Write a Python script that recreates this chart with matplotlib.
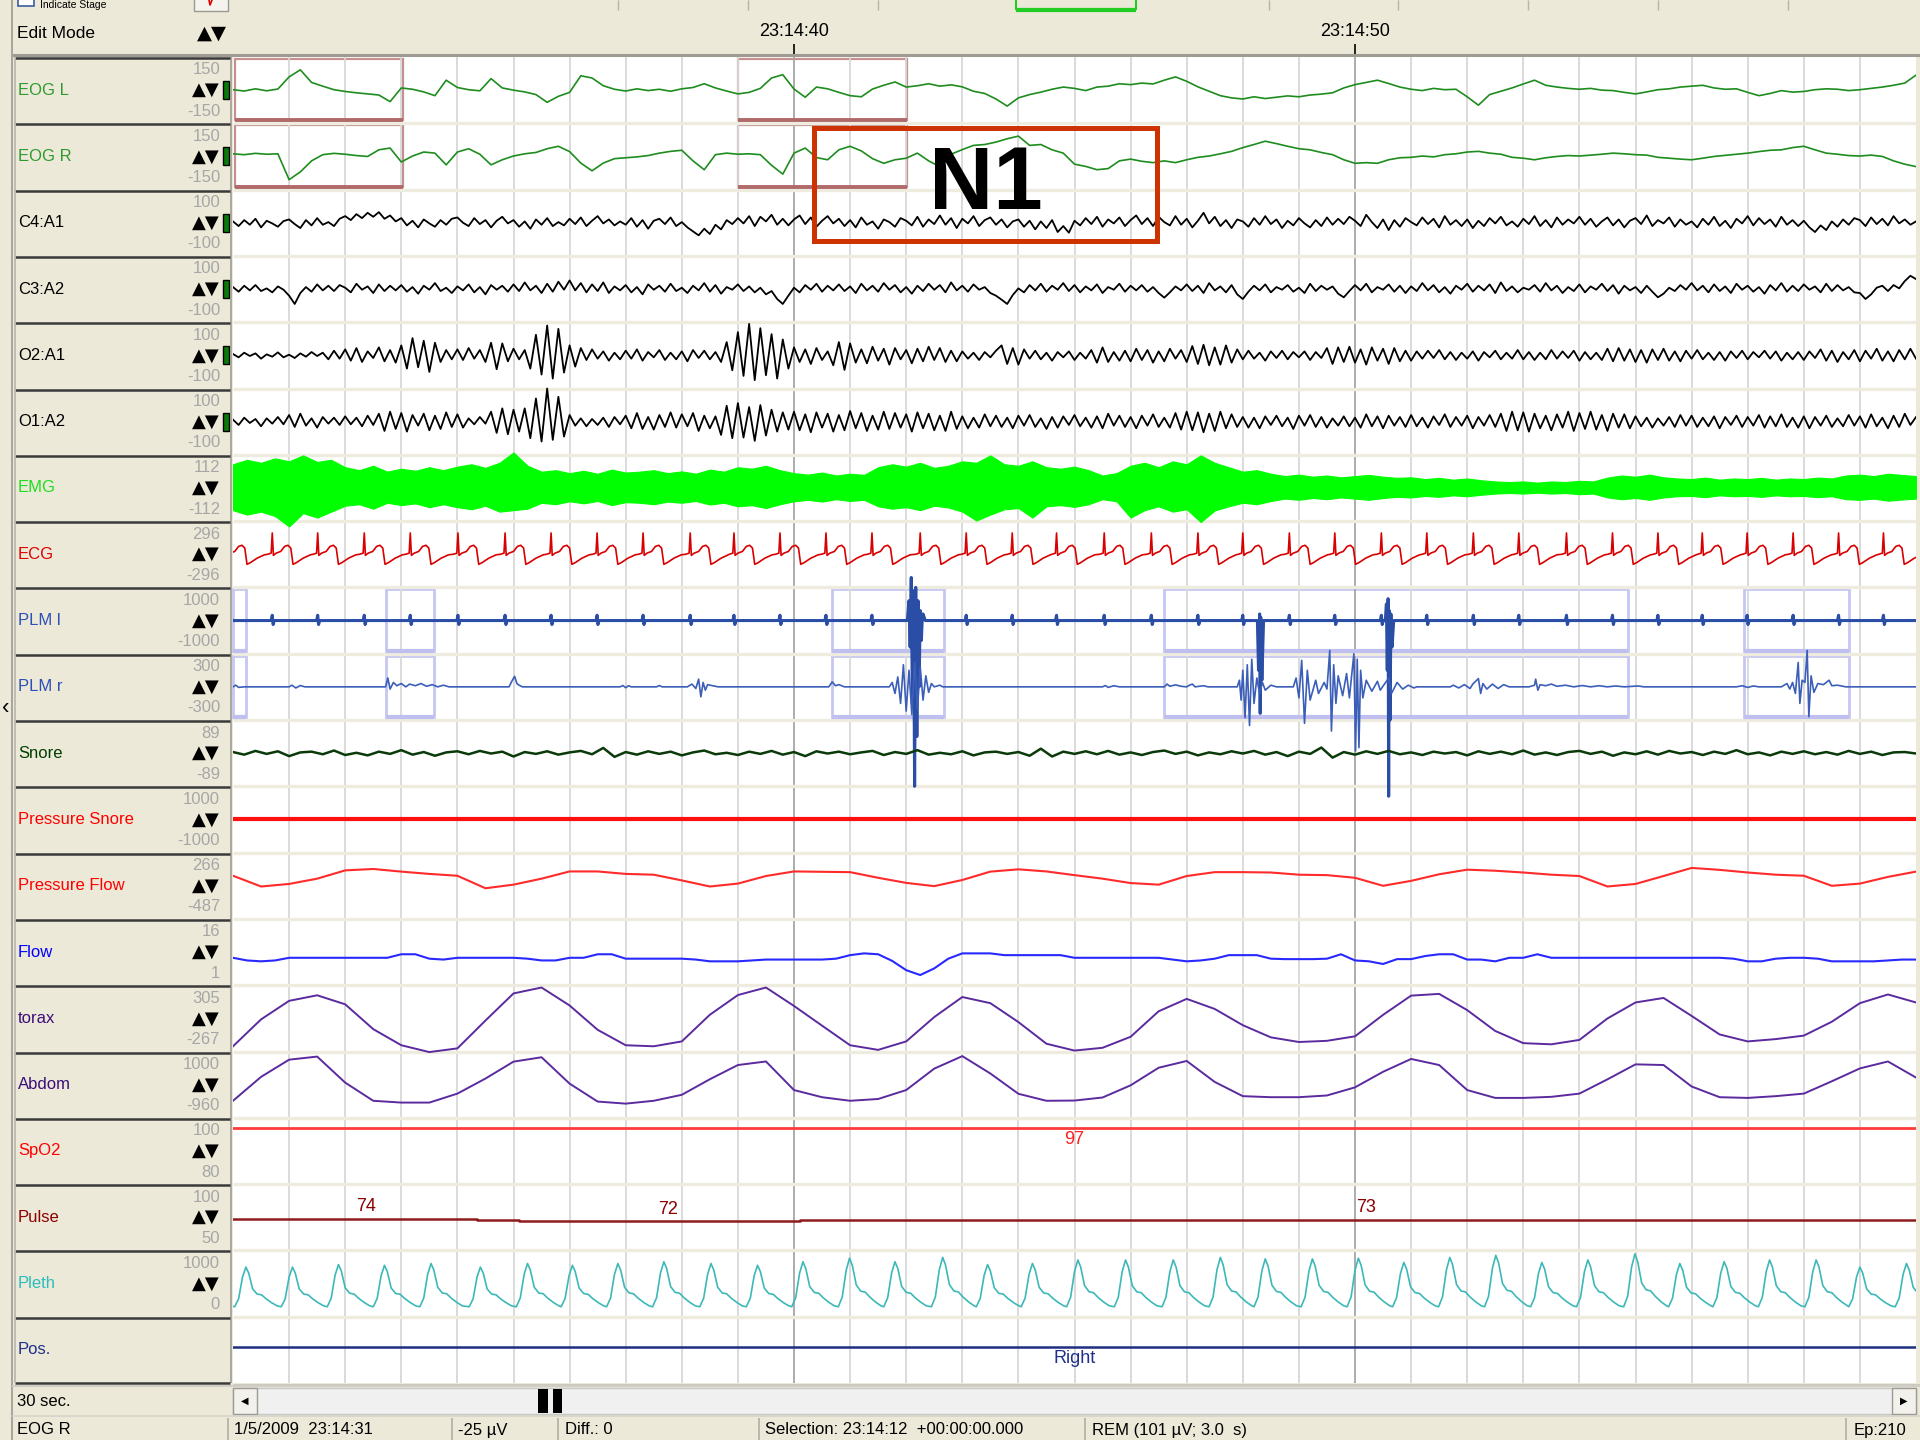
import numpy as np
import matplotlib
matplotlib.use("Agg")
import matplotlib.pyplot as plt
from matplotlib.patches import Rectangle
from matplotlib.transforms import Bbox, TransformedBbox

plt.rcParams["font.family"] = ["Liberation Sans Narrow", "Liberation Sans", "DejaVu Sans"]

# ---------------- channels ----------------
labels = ["EOG L", "EOG R", "C4:A1", "C3:A2", "O2:A1", "O1:A2", "EMG", "ECG", "PLM l", "PLM r",
          "Snore", "Pressure Snore", "Pressure Flow", "Flow", "torax", "Abdom", "SpO2", "Pulse",
          "Pleth", "Pos."]
scale_top = [150, 150, 100, 100, 100, 100, 112, 296, 1000, 300, 89, 1000, 266, 16, 305, 1000,
             100, 100, 1000, None]
scale_bottom = [-150, -150, -100, -100, -100, -100, -112, -296, -1000, -300, -89, -1000, -487, 1,
                -267, -960, 80, 50, 0, None]
label_colors = ["#2E9A2E", "#2E9A2E", "#000000", "#000000", "#000000", "#000000", "#22DD22",
                "#DD0000", "#2F4FB8", "#2F4FB8", "#003C00", "#FF0000", "#FF0000", "#0000FF",
                "#3D0E7A", "#3D0E7A", "#FF0000", "#8B0000", "#2DBDBD", "#1F2F8A"]
trace_colors = ["#1E8C1E", "#1E8C1E", "#000000", "#000000", "#000000", "#000000", "#00FF00",
                "#D80000", "#2A4EA6", "#3B5EB8", "#0A3A0A", "#FF1010", "#FF2A2A", "#2828FF",
                "#5A2A9E", "#5A2A9E", "#FF3A3A", "#8E1C1C", "#3DB8B8", "#1F2F80"]
has_gain_bar = [True] * 6 + [False] * 14

# ---------------- signals (30 s page, values in channel units) ----------------
eog_l = [2, -4, 6, -3, 5, 60, 92, 35, 18, 2,
         -6, -12, -17, -22, -52, 10, 4, -8, -25, 45,
         12, 2, -3, 52, 10, 0, -8, -20, -55, -28,
         -10, 65, 55, 20, 4, -4, 6, -2, 4, -5,
         6, 12, 29, 10, -4, -17, -10, 8, 55, 70,
         5, -32, 14, 6, -10, -25, -30, 5, 22, 37,
         14, 20, 29, 18, 24, 15, -5, -15, -40, -72,
         -35, -20, -9, 4, 14, 8, -2, 14, 18, 29,
         25, 32, 28, 45, 60, 40, 15, -5, -25, -35,
         -40, -30, -38, -32, -26, -30, -22, -18, -12, 10,
         25, 35, 45, 30, 14, 4, -2, 8, 2, 4,
         -30, -68, -20, -5, 10, 28, 45, 22, 14, 8,
         4, 8, 0, -2, -10, -17, -8, 2, 6, 14,
         18, 22, 10, 4, 6, -10, -25, -15, -2, -9,
         -6, 2, 6, 4, -2, 2, 8, 14, 22, 32, 68]
eog_r = [12, 8, 14, 10, 12, -105, -70, -20, 8, 14,
         10, 4, 0, 30, 38, -25, 2, 20, 15, -38,
         20, 35, 10, -38, -15, 2, 12, 18, 35, 46,
         22, -30, -65, -30, -10, -6, -2, 4, 15, 23,
         28, -20, -60, 8, 15, 10, 12, 8, -40, -80,
         15, 38, -5, -15, 30, 46, 25, -10, -31, -15,
         -8, 15, -20, -46, 10, 31, 50, 54, 65, 80,
         92, 50, 54, 30, 15, -35, -45, -60, -55, -20,
         -12, -22, -28, -20, -28, -15, -4, 2, 12, 23,
         40, 54, 69, 58, 46, 35, 30, 18, 8, -15,
         -31, -28, -31, -15, -6, -4, 2, -2, 8, 12,
         20, 23, 15, 10, -4, -8, -15, -6, 0, 4,
         2, 6, 10, 15, 12, 8, 6, -4, -8, -12,
         -15, -8, 0, 5, 10, 15, 22, 28, 30, 40,
         46, 30, 15, 10, 4, 2, 6, 0, -20, -35, -46]

c4_a1 = [4, -10, 8, -6, 12, -14, 6, -2, -12, 5,
         10, -4, -16, 8, -8, 14, -6, 2, -10, 12,
         20, 8, 26, 14, 30, 18, 32, 12, 22, 4,
         14, -8, 6, -14, 10, -2, -12, 8, -6, 12,
         16, 0, -10, 14, -4, 8, -14, 6, 18, -2,
         8, -12, 4, -18, 10, -6, 14, -10, 2, -8,
         12, -4, 16, -10, 6, 20, -2, 10, -8, 4,
         -6, 14, -12, 8, -18, 6, 12, -4, 16, -10,
         2, -14, -26, -38, -18, -34, -6, -20, 8, -4,
         14, -2, 20, -10, 18, 4, 24, -6, 12, -8,
         10, 22, -4, 16, -12, 6, 20, -2, 12, -10,
         8, -14, 16, -6, 4, -18, 10, 2, -12, 14,
         6, -8, 18, -12, 10, -4, 22, -6, 14, -16,
         12, -2, 20, -10, 8, 16, -6, 10, -14, 4,
         10, -12, 6, -20, 4, -16, 8, -28, -10, -30,
         6, -8, 14, -4, 18, -12, 10, -2, 16, -10,
         8, 22, -4, 14, -10, 18, 2, -8, 20, -6,
         12, -14, 6, 30, -2, 18, -10, 8, -16, 10,
         4, -12, 14, -6, 20, -4, 10, -16, 6, -8,
         14, -2, -14, 8, -10, 16, -6, 12, -4, 18,
         6, -10, 24, 2, -16, 10, -22, 8, -12, 14,
         2, -8, 16, -4, 12, -14, 20, -6, 8, -10,
         10, -16, 6, -10, 14, -2, 18, -8, 4, -12,
         12, -4, 20, -10, 8, -14, 16, -6, 10, -2,
         18, -6, 12, -12, 4, 16, -8, 10, -14, 6,
         14, -4, 22, -10, 8, -2, 16, -12, 10, -6,
         4, -14, 12, -6, 18, -10, 6, -16, 12, -2,
         20, -8, 14, -4, 10, -12, 18, -6, 8, -10,
         6, -14, -28, -8, -22, 4, -12, 10, -6, 14,
         8, -10, 16, -4, 12, -8, 20, -2, 10, -6, 4]
c3_a2 = [6, -8, 10, -4, 12, -6, 2, -10, 8, -2,
         -20, -45, -12, 6, -8, 14, -4, 10, -6, 12,
         4, -10, 16, -2, 8, -12, 14, -6, 10, -4,
         12, -8, 6, -14, 10, -2, 18, -6, 4, -12,
         8, -4, 14, -10, 6, -16, 12, -2, 10, -8,
         14, -6, 20, -4, 10, -12, 16, -8, 22, -2,
         26, -4, 18, -10, 14, -6, 20, -12, 8, -4,
         12, -10, 6, -16, 14, -2, 10, -8, 16, -6,
         4, -12, 10, -4, 18, -8, 12, -14, 6, -2,
         14, -6, 8, -10, 4, -16, -6, -30, -45, -20,
         4, -10, 12, -2, 16, -8, 10, -4, 14, -6,
         8, -12, 16, -4, 10, -8, 18, -2, 12, -10,
         6, -14, 10, -6, 16, -2, 12, -10, 20, -4,
         10, -8, 14, -2, 6, -12, -20, -32, -45, -18,
         2, -10, 12, -4, 16, -8, 10, -2, 18, -6,
         12, -10, 8, -4, 14, -12, 6, -2, 16, -8,
         10, -4, 12, -8, 6, -12, -26, -10, 8, -4,
         14, -6, 10, -12, 18, -4, 8, -10, 12, -16,
         -30, -8, 10, -4, 14, -10, 6, -2, 12, -8,
         4, -12, 16, -6, 10, -2, 8, -14, -25, -6,
         12, -4, 16, -10, 6, -2, 14, -8, 10, -12,
         8, -6, 18, -4, 12, -10, 6, -14, 10, -2,
         16, -8, 10, -4, 14, -12, 20, -6, 8, -10,
         4, -2, 12, -8, 18, -4, 10, -12, 6, -6,
         14, -10, 8, -2, 16, -6, 12, -14, 10, -4,
         6, -12, 10, -8, -25, -14, 4, -6, 12, -2,
         18, -4, 10, -10, 14, -6, 8, -12, 16, -2,
         10, -8, 6, -14, 12, -4, 18, -8, 10, -6,
         14, -2, 8, -10, 16, -6, 12, -4, 6, -10,
         -12, -30, -16, 4, 10, -6, 12, 2, 24, 40, 30]
o2_a1 = [4, -6, 8, -2, 6, -10, 3, -4, 9, -6,
         2, -8, 6, -4, 10, -2, 8, -12, 14, -10,
         18, -16, 22, -20, 12, -8, 24, -18, 16, -22,
         30, -40, 52, -36, 44, -50, 38, -20, 16, -12,
         18, -14, 22, -10, 16, -20, 38, -42, 36, -18,
         20, -12, 16, -40, 62, -58, 90, -70, 80, -52,
         30, -34, 22, -14, 18, -10, 12, -16, 8, -12,
         14, -10, 18, -16, 10, -6, 16, -14, 8, -12,
         12, -18, 16, -8, 14, -12, 10, -20, 40, -45,
         70, -62, 95, -75, 82, -60, 64, -70, 48, -40,
         24, -20, 18, -26, 22, -14, 12, -30, 40, -44,
         36, -22, 18, -24, 26, -16, 20, -28, 22, -12,
         16, -24, 20, -18, 26, -14, 22, -20, 14, -18,
         12, -10, 8, -14, 10, -6, 14, 30, -26, 22,
         -28, 18, -10, 14, -12, 8, -16, 10, -6, 12,
         -14, 8, -10, 16, -22, 24, -20, 10, -16, 14,
         -18, 20, -14, 16, -22, 12, -18, 20, -10, 16,
         -20, 28, -26, 32, -30, 24, -28, 30, -22, 18,
         -12, 14, -10, 8, -16, 12, -8, 14, -12, 10,
         -6, 12, -14, 10, -8, 22, -26, 24, -20, 26,
         -22, 18, -28, 24, -16, 20, -26, 22, -18, 14,
         -16, 12, -10, 14, -8, 16, -12, 10, -14, 8,
         -10, 12, -16, 10, -6, 14, -12, 8, -10, 16,
         -12, 10, -14, 8, -12, 16, -10, 12, -8, 14,
         -16, 10, -12, 8, -14, 20, -18, 22, -16, 18,
         -20, 16, -22, 18, -14, 20, -16, 12, -18, 14,
         -10, 16, -12, 8, -14, 10, -16, 12, -8, 14,
         -12, 10, -6, 14, -10, 12, -16, 8, -12, 10,
         -14, 12, -8, 18, -16, 14, -20, 10, -12, 16,
         -18, 14, -10, 20, -16, 12, -18, 16, -12, 20, -10]
o1_a2 = [6, -10, 12, -4, 8, -14, 10, -6, 14, -8,
         20, -16, 24, -12, 10, -18, 14, -6, 12, -10,
         16, -8, 12, -14, 18, -10, 24, -28, 30, -22,
         26, -30, 20, -12, 24, -26, 18, -22, 28, -16,
         22, -18, 10, -8, 14, -6, 30, -34, 40, -38,
         36, -30, 40, -50, 70, -60, 100, -55, 75, -45,
         20, -12, 10, -14, 8, -10, 12, -16, 14, -8,
         18, -20, 26, -22, 14, -24, 20, -16, 28, -18,
         22, -14, 26, -28, 18, -20, 16, -40, 48, -50,
         56, -48, 44, -58, 50, -42, 36, -30, 28, -24,
         30, -26, 22, -32, 28, -18, 24, -30, 20, -26,
         32, -20, 26, -28, 18, -24, 30, -22, 26, -18,
         22, -30, 28, -20, 24, -26, 18, -28, 30, -22,
         16, -20, 12, -18, 22, -14, 18, -16, 12, -20,
         18, -12, 20, -16, 10, -22, 14, -18, 16, -10,
         20, -14, 12, -18, 16, -20, 24, -12, 18, -16,
         14, -20, 18, -12, 22, -16, 12, -18, 26, -24,
         30, -26, 28, -32, 24, -28, 30, -20, 22, -16,
         14, -18, 12, -20, 16, -10, 18, -14, 12, -22,
         18, -12, 20, -16, 14, -18, 10, -12, 16, -14,
         12, -18, 22, -14, 16, -20, 18, -12, 14, -16,
         20, -14, 12, -18, 16, -10, 22, -16, 14, -12,
         18, -20, 14, -12, 20, -16, 24, -28, 30, -26,
         28, -30, 24, -20, 18, -26, 22, -18, 30, -28,
         26, -22, 30, -24, 20, -28, 24, -18, 22, -20,
         16, -14, 12, -18, 10, -12, 14, -16, 20, -12,
         18, -16, 12, -14, 16, -20, 14, -10, 18, -16,
         14, -12, 20, -18, 16, -14, 22, -16, 12, -18,
         16, -20, 14, -12, 18, -16, 10, -14, 20, -12,
         16, -18, 22, -14, 12, -20, 18, -16, 24, -10, 14]

# EMG drawn as its amplitude band (upper / lower envelope every 0.25 s)
emg_upper = [80, 95, 85, 100, 90, 110, 88, 95,
             70, 60, 75, 55, 65, 58, 70, 60,
             72, 80, 68, 85, 120, 75,
             55, 60, 50, 58, 48, 62, 52, 55, 60, 50, 56, 48, 62, 55,
             70, 65, 75, 60,
             50, 45, 52, 42, 48, 44,
             70, 80, 72, 85, 68, 75,
             90, 85, 110, 80, 75, 90, 70, 65, 72, 60,
             42, 50,
             75, 85, 70, 90, 80, 110, 85, 70,
             55, 60, 48,
             40, 45, 38, 42, 36, 40, 44, 38,
             34, 36, 30, 34, 28, 32, 26,
             22, 20, 22, 18, 22, 20, 24, 22,
             35, 42, 38, 45, 36,
             32, 30, 35, 28, 32, 30, 34, 28, 32, 30, 35, 32,
             42, 45, 40, 48, 44, 40]
emg_lower = [-75, -90, -80, -95, -130, -85, -100, -80,
             -60, -55, -70, -50, -58, -52, -65, -55,
             -65, -72, -60, -80, -75, -70,
             -50, -55, -45, -52, -44, -58, -48, -50, -55, -46, -50, -44, -56, -50,
             -62, -58, -68, -55,
             -45, -40, -46, -38, -44, -40,
             -62, -70, -65, -75, -60, -66,
             -80, -110, -90, -72, -68, -100, -62, -58, -64, -55,
             -38, -45,
             -100, -75, -62, -80, -72, -115, -76, -62,
             -50, -55, -44,
             -36, -40, -34, -38, -32, -36, -40, -34,
             -30, -32, -27, -30, -25, -28, -23,
             -19, -17, -19, -16, -19, -17, -21, -19,
             -32, -38, -34, -40, -32,
             -28, -27, -31, -25, -28, -27, -30, -25, -28, -27, -31, -28,
             -38, -40, -36, -43, -39, -36]

ecg_beats = [-0.12, 0.70, 1.51, 2.34, 3.16, 4.01, 4.85, 5.67, 6.49, 7.31, 8.15, 8.93, 9.75,
             10.57, 11.39, 12.25, 13.07, 13.89, 14.68, 15.53, 16.37, 17.20, 18.00, 18.83,
             19.64, 20.47, 21.28, 22.11, 22.92, 23.77, 24.59, 25.40, 26.19, 26.99, 27.81,
             28.62, 29.42]
ecg_shape_dt = [-0.08, -0.02, 0.0, 0.02, 0.07, 0.15, 0.22, 0.28, 0.33, 0.37, 0.43, 0.55, 0.68]
ecg_shape_uv = [0, 10, 190, -10, 10, 25, 70, 80, 55, -90, -75, -35, -5]

# PLM l: ECG pick-up blips plus three large movement artefacts
plm_blip_dt = [-0.02, 0.0, 0.015, 0.035]
plm_blip_uv = [0, 160, -120, 0]
plm_l_evt_t = [12.02, 12.05, 12.07, 12.09, 12.11, 12.13, 12.15, 12.17, 12.19, 12.21, 12.23,
               12.25, 12.27, 12.30, 12.34,
               18.26, 18.28, 18.30, 18.31, 18.32, 18.34, 18.37,
               20.54, 20.56, 20.575, 20.59, 20.60, 20.61, 20.625, 20.64, 20.66, 20.69]
plm_l_evt_v = [0, 600, -800, 1300, -2500, 900, -5000, 1000, -3500, 600, -2000,
               300, -600, 200, 0,
               0, -1500, 200, -2800, 100, -1800, 0,
               0, 500, -1500, 660, -5300, 300, -3000, 200, -800, 0]

plm_r_t = [0, 0.05, 0.1, 0.2,
           1.0, 1.05, 1.12, 1.2, 1.28,
           2.72, 2.76, 2.80, 2.86, 2.92, 3.0, 3.08, 3.15, 3.25, 3.35, 3.45, 3.55, 3.65, 3.75, 3.85, 4.0,
           4.92, 4.98, 5.02, 5.06, 5.10, 5.16,
           6.9, 6.95, 7.0, 7.05, 7.1,
           7.55, 7.6, 7.65,
           8.1, 8.18, 8.25, 8.3, 8.34, 8.38, 8.42, 8.46, 8.55, 8.65,
           10.62, 10.68, 10.74, 10.8, 10.9,
           11.7, 11.75, 11.8, 11.85, 11.9, 11.95, 12.0, 12.05, 12.1, 12.15, 12.2, 12.25, 12.3,
           12.35, 12.4, 12.45, 12.5, 12.6, 12.65,
           15.5, 15.55, 15.6, 15.7, 15.8,
           16.6, 16.65, 16.7, 16.8, 16.9, 17.0, 17.05, 17.1, 17.15, 17.3, 17.38,
           17.9, 17.94, 17.97, 18.0, 18.04, 18.08, 18.12, 18.16, 18.2, 18.25, 18.3, 18.35, 18.4,
           18.5, 18.6,
           18.9, 18.95, 19.0, 19.05, 19.1, 19.15, 19.2, 19.3, 19.35, 19.45, 19.5,
           19.55, 19.58, 19.62, 19.66, 19.7, 19.78, 19.85, 19.9, 19.98, 20.01, 20.04, 20.07,
           20.1, 20.14, 20.2,
           20.3, 20.4, 20.45, 20.6, 20.65, 20.75, 20.85, 20.95, 21.05, 21.1,
           21.7, 21.75, 21.85, 21.95, 22.05, 22.1, 22.2, 22.24, 22.28, 22.35, 22.45, 22.55,
           22.65, 22.75,
           23.1, 23.2, 23.22, 23.26, 23.3, 23.4, 23.5, 23.6, 23.75, 23.9, 24.05, 24.2, 24.35,
           24.5, 24.65, 24.8,
           25.05, 25.15,
           26.8, 26.9, 27.0, 27.1, 27.2,
           27.6, 27.7, 27.75, 27.8, 27.85, 27.9, 27.93, 27.97, 28.02, 28.06, 28.09, 28.13,
           28.18, 28.25, 28.35, 28.45, 28.5, 28.6, 28.75,
           30]
plm_r_v = [0, 15, -5, 0,
           0, 15, -10, 12, 0,
           0, 80, -20, 40, 10, 30, 0, 25, 10, 30, 5, 20, 0, 15, 0, 0,
           0, 60, 95, 30, 15, 0,
           0, 12, -8, 10, 0,
           0, 12, 0,
           0, 25, -15, 70, -90, 40, -30, 20, 10, 0,
           0, 45, 10, 20, 0,
           0, 40, -60, 90, -150, 200, -220, 150, -250, 225, -200, 180, -120,
           100, -50, 30, 0, 15, 0,
           0, 12, -5, 10, 0,
           0, 25, 5, 18, 5, 0, 15, 25, 0, 10, 0,
           0, 60, -120, 150, -280, 200, -350, 250, -150, 80, -60, 40, -30,
           15, 0,
           0, 80, -100, 240, -330, 150, -120, 60, -60, 40, -20,
           330, -400, 200, -150, 100, -80, 120, -100, 300, -580, 250, -550,
           150, -100, 60,
           -40, 50, -30, 80, -60, 40, -20, 15, -10, 0,
           0, 15, -10, 20, -15, 25, 75, -60, 30, -20, 25, -15,
           20, 0,
           0, 15, 70, -30, 20, 10, 25, 5, 15, 0, 12, 0, 10,
           0, 8, 0,
           8, 0,
           0, 10, -5, 8, 0,
           0, 30, -20, 40, -60, 220, -150, 60, 40, 330, -270, 100,
           -50, 30, 20, 60, 10, 15, 0,
           0]

snore = [3, -4, 6, -2, 5, -8, 2, 4, -3, 7, -5, 1, -6, 4, -2, 8, -4, 3, -7, 2,
         5, -3, 6, -1, 4, -9, 3, -2, 5, -4, 2, 6, -3, 14, -10, 3, -4, 5, -2, 4,
         -6, 2, 7, -3, 1, -5, 4, -2, 6, -4, 3, -8, 5, -1, 4, -3, 2, 6, -5, 3,
         -2, 8, -4, 1, -3, 5, -6, 2, 4, -2, 3, -7, 12, -9, 4, -2, 5, -3, 6, -4,
         2, -5, 3, 7, -2, 4, -6, 2, -3, 5, -1, 6, -4, 3, -8, 4, -2, 15, -12, 3,
         -4, 5, -2, 6, -3, 2, -5, 4, -1, 3, -6, 5, -2, 4, -3, 7, -4, 2, -5, 3,
         6, -2, 4, -7, 2, -3, 5, -4, 6, -1, 3, -5, 4, -2, 8, -3, 2, -6, 4, -2,
         5, -3, 3, -4, 6, -2, 4, -5, 2, 3, -1]

pressure_snore = [0, 0, 0, 0, 0, 0, 0]

# 0.5 s steps
pressure_flow = [3, -119, -90, -30, 64, 80, 50, 24, 3, -139, -98, -30, 52, 52, 24, 15, -50,
                 -119, -86, 0, 52, 48, 44, -20, -78, -115, -45, 50, 76, 52, 10, -30, -80, -98,
                 0, 44, 44, 40, 15, 10, -20, -111, -55, 20, 72, 60, 40, 15, 0, -119, -90, 0,
                 92, 70, 40, 15, 3, -111, -86, -10, 50]
# 0.25 s steps
flow = [7.2, 6.6, 6.4, 6.6, 7.2, 7.2, 7.2, 7.2, 7.2, 7.2, 7.2, 7.2, 8.0, 8.0, 7.0, 6.8,
        7.2, 7.2, 7.2, 7.2, 7.2, 7.0, 6.6, 6.6, 7.2, 7.2, 8.0, 8.0, 7.0, 7.0, 7.0, 7.0,
        7.0, 6.8, 6.4, 6.4, 6.4, 6.6, 6.8, 6.8, 6.8, 6.8, 6.8, 7.0, 7.8, 8.2, 8.0, 6.5,
        4.4, 3.3, 4.8, 7.0, 8.2, 8.2, 8.2, 7.8, 7.8, 7.8, 7.8, 7.8, 7.2, 7.2, 7.2, 7.2,
        7.2, 7.2, 7.2, 6.8, 6.4, 6.6, 7.0, 7.8, 7.8, 7.8, 7.0, 6.9, 6.9, 6.9, 7.0, 8.0,
        6.6, 6.4, 5.8, 6.9, 6.9, 7.6, 8.0, 8.0, 6.8, 6.8, 6.4, 7.2, 7.2, 8.0, 7.2, 7.2,
        7.2, 7.2, 7.2, 7.2, 7.2, 7.2, 7.2, 7.2, 7.2, 7.2, 7.2, 7.0, 6.4, 6.4, 7.0, 7.2,
        7.2, 7.0, 6.4, 6.4, 6.4, 6.4, 6.6, 6.8, 6.8]
# 0.5 s steps
torax = [-222, 10, 170, 218, 140, -74, -213, -272, -240, 0, 234, 285, 130, -80, -213, -222,
         -180, 50, 220, 285, 126, -44, -213, -253, -180, 30, 203, 150, -13, -200, -259, -235,
         -140, 80, 187, 100, -40, -145, -185, -175, -136, 49, 215, 230, 90, -90, -195, -205,
         -167, 18, 156, 195, 40, -120, -180, -160, -130, -10, 150, 225, 156]
abdom = [-457, 250, 758, 850, 80, -457, -510, -510, -245, 200, 700, 830, 50, -480, -541, -457,
         -280, 180, 600, 705, -140, -351, -457, -404, -140, 494, 863, 350, -250, -457, -450,
         -360, 0, 520, 720, 100, -320, -351, -351, -300, -60, 400, 780, 600, -140, -372, -372,
         -340, -245, 177, 620, 600, -34, -351, -372, -320, -245, 120, 500, 705, 230]

spo2 = [97, 97]
pulse_t = [0, 4.35, 5.1, 10.1, 30]
pulse_v = [74, 73, 72, 73, 73]
pulse_marks = [(2.37, "74"), (7.76, "72"), (20.2, "73")]

pleth_peaks = [-0.60, 0.23, 1.06, 1.88, 2.70, 3.53, 4.41, 5.25, 6.05, 6.86, 7.68, 8.52, 9.35,
               10.16, 10.99, 11.80, 12.65, 13.45, 14.25, 15.06, 15.91, 16.76, 17.60, 18.40,
               19.24, 20.06, 20.87, 21.69, 22.51, 23.33, 24.15, 24.99, 25.79, 26.58, 27.39,
               28.22, 29.0, 29.83]
pleth_peak_vals = [750, 748, 748, 786, 775, 802, 748, 802, 775, 802, 829, 802, 775, 829, 883,
                   829, 894, 786, 802, 856, 856, 856, 894, 872, 872, 883, 818, 894, 926, 818,
                   856, 948, 802, 829, 856, 856, 748, 802]
pleth_trough = 150
pleth_shape_dt = [-0.20, -0.13, -0.06, 0.0, 0.05, 0.12, 0.20, 0.28, 0.36, 0.46, 0.56]
pleth_shape_frac = [0.0, 0.2, 0.75, 1.0, 0.85, 0.45, 0.32, 0.30, 0.2, 0.1, 0.02]

pos_level = [0.55, 0.55]

# ---------------- scoring marks ----------------
eog_marks = [(0.04, 3.03), (9.01, 12.02)]
plm_marks = [(0.0, 0.24), (2.73, 3.58), (10.67, 12.68), (16.6, 24.87), (26.93, 28.81)]
stage_box = (10.36, 16.47)

# ---------------- page geometry (pixels) ----------------
W, H = 1920, 1440
PX0, PX1 = 233, 1916
ROW0, ROWH, NROW = 57, 66.3, 20
ROWEND = ROW0 + NROW * ROWH
BEIGE = "#ECE9D8"


def tx(t):
    return PX0 + t * (PX1 - PX0) / 30.0


def row_top(i):
    return ROW0 + i * ROWH


fig = plt.figure(figsize=(19.2, 14.4), dpi=100)
fig.patch.set_facecolor(BEIGE)
bg = fig.add_axes([0, 0, 1, 1])
bg.set_xlim(0, W)
bg.set_ylim(H, 0)
bg.axis("off")


def hline(ax, y, x0, x1, color, lw):
    ax.plot([x0, x1], [y, y], color=color, lw=lw, solid_capstyle="butt")


def vline(ax, x, y0, y1, color, lw):
    ax.plot([x, x], [y0, y1], color=color, lw=lw, solid_capstyle="butt")


# top tool strip
bg.add_patch(Rectangle((18, -6), 16, 12, fc="white", ec="#3B5E9E", lw=1.2))
bg.text(40, 5.5, "Indicate Stage", fontsize=7.5, va="center", ha="left", color="#000000")
bg.add_patch(Rectangle((194, -4), 34, 15, fc="#F4F3EE", ec="#9A9A90", lw=1.0))
bg.plot([209, 210, 212], [0, 5, 0], color="#E00000", lw=1.2)
for x in [618, 748, 878, 1269, 1398, 1528, 1658, 1788]:
    vline(bg, x, 0, 10, "#B8B5A8", 1.0)
bg.add_patch(Rectangle((1016, -3), 120, 12, fc="none", ec="#22CC22", lw=1.5))
hline(bg, 9.5, 1016, 1136, "#22CC22", 3)

# header
bg.text(17, 33, "Edit Mode", fontsize=12.5, va="center", ha="left")
bg.text(227, 33, "\u25B2\u25BC", fontsize=14, va="center", ha="right", family=["DejaVu Sans"])
for t, lab in [(10, "23:14:40"), (20, "23:14:50")]:
    bg.text(tx(t), 31, lab, fontsize=13, va="center", ha="center")
    vline(bg, tx(t), 44, 55, "#000000", 1.2)
hline(bg, 54.5, 12, W, "#9E9C92", 2.2)
vline(bg, 12, 0, H, "#A8A69C", 1.4)

# plot area, grid, row separators
bg.add_patch(Rectangle((PX0, ROW0 - 1), PX1 - PX0, ROWEND - ROW0 + 1, fc="white", ec="none"))
for s in range(1, 30):
    col = "#A6A6A6" if s % 10 == 0 else "#D8D8D8"
    vline(bg, tx(s), ROW0, ROWEND, col, 1.3)
for i in range(1, NROW):
    hline(bg, row_top(i), PX0, PX1, "#EEEBDF", 2.4)
vline(bg, 231, ROW0, ROWEND, "#9E9C92", 1.2)

# label column
for i in range(NROW):
    top, bot = row_top(i), row_top(i + 1)
    yc = (top + bot) / 2
    hline(bg, top + 1, 15, 230, "#3A3A3A", 1.8)
    bg.text(18, yc, labels[i], fontsize=12, color=label_colors[i], va="center", ha="left")
    if scale_top[i] is not None:
        bg.text(220, top + 13, str(scale_top[i]), fontsize=12, color="#A6A6A6",
                va="center", ha="right")
        bg.text(220, bot - 12, str(scale_bottom[i]), fontsize=12, color="#A6A6A6",
                va="center", ha="right")
        bg.text(220, yc, "\u25B2\u25BC", fontsize=13, color="#000000", va="center", ha="right",
                family=["DejaVu Sans"])
    if has_gain_bar[i]:
        bg.add_patch(Rectangle((223, yc - 9), 6, 18, fc="#0B7A0B", ec="#000000", lw=1.0))
hline(bg, ROWEND, 15, 230, "#3A3A3A", 1.8)
hline(bg, ROWEND + 2, PX0, W, "#C8C6BC", 2.0)
vline(bg, 15, ROW0, ROWEND, "#B8B6AC", 1.2)
bg.text(6, 708, "\u2039", fontsize=16, va="center", ha="center")

# score boxes behind traces
for r in (0, 1):
    for t0, t1 in eog_marks:
        y0, y1 = row_top(r) + 2, row_top(r + 1) - 3
        bg.add_patch(Rectangle((tx(t0), y0), tx(t1) - tx(t0), y1 - y0, fc="none",
                               ec="#C49090", lw=1.6))
        hline(bg, y1, tx(t0), tx(t1), "#B06A6A", 2.8)
for r in (8, 9):
    for t0, t1 in plm_marks:
        y0, y1 = row_top(r) + 2, row_top(r + 1) - 3
        bg.add_patch(Rectangle((tx(t0), y0), tx(t1) - tx(t0), y1 - y0, fc="none",
                               ec="#C6C6F2", lw=2.0))
        hline(bg, y1, tx(t0), tx(t1), "#C0C0F0", 3.0)

# scroll bar and status bar
hline(bg, 1386, 12, W, "#D0CEC4", 1.5)
bg.text(17, 1401, "30 sec.", fontsize=12, va="center", ha="left")
bg.add_patch(Rectangle((PX0, 1388), PX1 - PX0, 26, fc="#F0F0F0", ec="#C8C8C8", lw=1.0))
for x0 in (PX0, PX1 - 24):
    bg.add_patch(Rectangle((x0, 1388), 24, 26, fc="#F2F1EC", ec="#9C9A92", lw=1.0))
bg.text(PX0 + 12, 1401, "\u25C0", fontsize=7, va="center", ha="center", family=["DejaVu Sans"])
bg.text(PX1 - 12, 1401, "\u25B6", fontsize=7, va="center", ha="center", family=["DejaVu Sans"])
bg.add_patch(Rectangle((538, 1389), 10, 24, fc="#000000", ec="none"))
bg.add_patch(Rectangle((553, 1389), 9, 24, fc="#000000", ec="none"))
hline(bg, 1416, 12, W, "#D6D4CA", 1.2)
status = [(17, "EOG R"), (234, "1/5/2009  23:14:31"), (458, "-25 \u00b5V"), (565, "Diff.: 0"),
          (765, "Selection: 23:14:12  +00:00:00.000"), (1092, "REM (101 \u00b5V; 3.0  s)"),
          (1854, "Ep:210")]
for x, s in status:
    bg.text(x, 1430, s, fontsize=12, va="center", ha="left")
for x in [228, 452, 558, 759, 1085, 1846]:
    vline(bg, x, 1418, 1440, "#B0AEA4", 1.2)

# ---------------- traces ----------------
clip = TransformedBbox(Bbox.from_extents(PX0 / W, 1 - ROWEND / H, PX1 / W, 1 - ROW0 / H),
                       fig.transFigure)
axes = []
for i in range(NROW):
    top = row_top(i)
    ax = fig.add_axes([PX0 / W, 1 - (top + ROWH) / H, (PX1 - PX0) / W, ROWH / H])
    ax.set_xlim(0, 30)
    if scale_top[i] is None:
        ax.set_ylim(0, 1)
    else:
        ax.set_ylim(scale_bottom[i], scale_top[i])
    ax.axis("off")
    axes.append(ax)


def trace(i, t, v, lw=1.1, **kw):
    ln, = axes[i].plot(t, v, color=trace_colors[i], lw=lw, **kw)
    ln.set_clip_box(clip)
    return ln


def even(vals):
    return np.linspace(0, 30, len(vals))


trace(0, even(eog_l), eog_l, lw=1.2)
trace(1, even(eog_r), eog_r, lw=1.2)
for i, sig in zip(range(2, 6), [c4_a1, c3_a2, o2_a1, o1_a2]):
    trace(i, even(sig), sig, lw=1.3)

emg_t = even(emg_upper)
band = axes[6].fill_between(emg_t, emg_lower, emg_upper, color=trace_colors[6], lw=0.8)
band.set_clip_box(clip)

ecg_t = np.concatenate([b + np.array(ecg_shape_dt) for b in ecg_beats])
ecg_v = np.tile(ecg_shape_uv, len(ecg_beats))
trace(7, ecg_t, ecg_v, lw=1.2)

blip_t = np.concatenate([b + np.array(plm_blip_dt) for b in ecg_beats])
blip_v = np.tile(plm_blip_uv, len(ecg_beats))
pl_t = np.concatenate([blip_t, plm_l_evt_t, [0, 30]])
pl_v = np.concatenate([blip_v, plm_l_evt_v, [0, 0]])
order = np.argsort(pl_t, kind="stable")
trace(8, pl_t[order], pl_v[order], lw=2.2)
trace(9, plm_r_t, plm_r_v, lw=1.2)
trace(10, even(snore), snore, lw=1.8)
trace(11, even(pressure_snore), pressure_snore, lw=3.0)
trace(12, even(pressure_flow), pressure_flow, lw=1.5)
trace(13, even(flow), flow, lw=1.5)
trace(14, even(torax), torax, lw=1.4)
trace(15, even(abdom), abdom, lw=1.4)
trace(16, even(spo2), spo2, lw=2.0)
axes[16].text(15, 93.5, "97", color="#FF2020", fontsize=13, ha="center", va="center")
trace(17, pulse_t, pulse_v, lw=1.8, drawstyle="steps-post")
for t, s in pulse_marks:
    lvl = pulse_v[np.searchsorted(pulse_t, t) - 1]
    axes[17].text(t, lvl + 9, s, color="#8B0000", fontsize=13, ha="center", va="center")
pleth_t = np.concatenate([p + np.array(pleth_shape_dt) for p in pleth_peaks])
pleth_v = np.concatenate([pleth_trough + np.array(pleth_shape_frac) * (pk - pleth_trough)
                          for pk in pleth_peak_vals])
trace(18, pleth_t, pleth_v, lw=1.2)
trace(19, even(pos_level), pos_level, lw=1.8)
axes[19].text(15, 0.37, "Right", color="#1F2F8A", fontsize=13, ha="center", va="center")

# ---------------- stage annotation on top ----------------
ov = fig.add_axes([0, 0, 1, 1])
ov.set_xlim(0, W)
ov.set_ylim(H, 0)
ov.axis("off")
y0, y1 = row_top(1) + 5, row_top(2) + 51
ov.add_patch(Rectangle((tx(stage_box[0]), y0), tx(stage_box[1]) - tx(stage_box[0]), y1 - y0,
                       fc="none", ec="#CC3300", lw=3.6))
ov.text((tx(stage_box[0]) + tx(stage_box[1])) / 2, (y0 + y1) / 2 + 2, "N1", fontsize=64,
        fontweight="bold", family=["Liberation Sans", "DejaVu Sans"], ha="center", va="center",
        color="#000000")

fig.savefig("out.png", dpi=100, facecolor=fig.get_facecolor())
